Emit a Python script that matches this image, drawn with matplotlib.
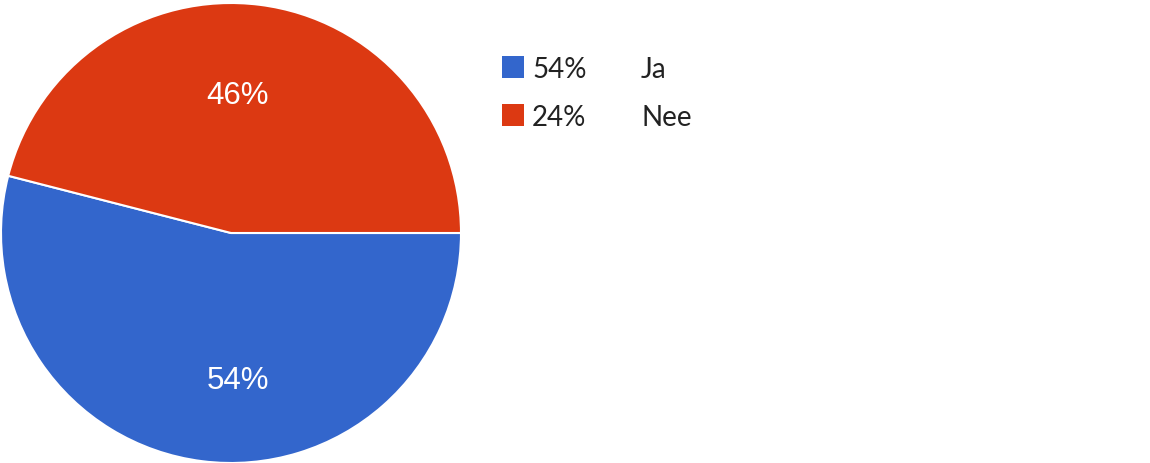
import matplotlib
matplotlib.use("Agg")
import matplotlib.pyplot as plt
from matplotlib.patches import Rectangle

categories = ["Ja", "Nee"]
values = [54, 46]
legend_pcts = ["54%", "24%"]
colors = ["#3366CC", "#DC3912"]

W, H = 1150, 463
fig = plt.figure(figsize=(W / 100, H / 100), dpi=100)
ax = fig.add_axes([0, 0, 1, 1])

cx, cy, r = 231, H - 233, 230
wedges, texts, autotexts = ax.pie(
    values, colors=colors, startangle=0, counterclock=False,
    center=(cx, cy), radius=r, autopct="%d%%", pctdistance=0.62,
    wedgeprops=dict(edgecolor="white", linewidth=1.5),
    textprops=dict(color="white", fontsize=22.5, family="Liberation Sans"),
)
ax.set_xlim(0, W)
ax.set_ylim(0, H)
ax.set_aspect("equal")
ax.axis("off")

# slice labels placed along the vertical centre line, as in the reference
label_offsets = [(6.5, -148), (6.5, 136.5)]
for t, (dx, dy) in zip(autotexts, label_offsets):
    t.set_position((cx + dx, cy + dy))
    t.set_ha("center")
    t.set_va("center")

# legend
for i, (pct, name) in enumerate(zip(legend_pcts, categories)):
    yc = H - (67 + i * 48)
    ax.add_patch(Rectangle((502, yc - 11), 22, 22, facecolor=colors[i], edgecolor="none"))
    ax.text(532, yc, pct, fontsize=20, family="Lato", va="center_baseline", ha="left", color="#222222")
    ax.text(641, yc, name, fontsize=20, family="Lato", va="center_baseline", ha="left", color="#222222")

fig.savefig("out.png", dpi=100)
